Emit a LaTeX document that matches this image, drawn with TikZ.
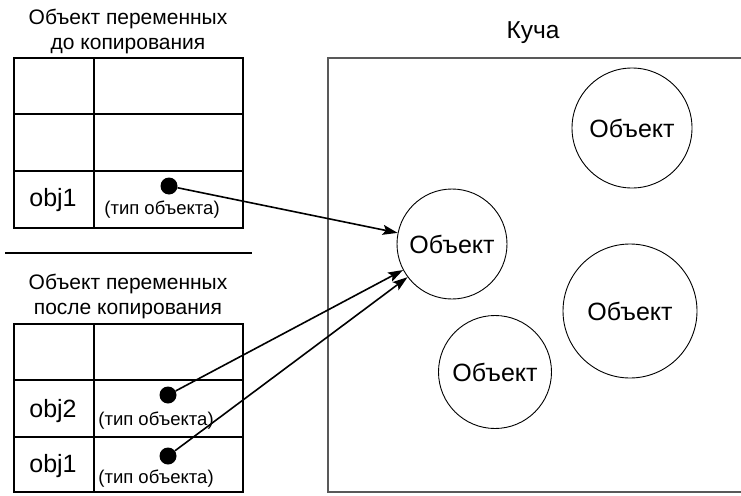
\documentclass[tikz,border=0pt]{standalone}
\usepackage{fontspec}
\setmainfont{Liberation Sans}
\usetikzlibrary{arrows.meta}
\begin{document}
\begin{tikzpicture}[x=1pt,y=-1pt,
  tline/.style={line width=1.2pt,black},
  rline/.style={line width=1.7pt,black},
  obj/.style={circle,draw,line width=0.9pt,inner sep=0pt,font=\fontsize{25}{28}\selectfont},
  dotn/.style={circle,fill=black,inner sep=0pt,minimum size=17pt},
  varname/.style={font=\fontsize{25}{28}\selectfont},
  typetxt/.style={font=\fontsize{18.5}{21}\selectfont},
  title/.style={font=\fontsize{21}{25}\selectfont,align=center},
  ptr/.style={line width=1.6pt,-{Stealth[length=15pt,width=10pt,inset=3pt]}}]
\useasboundingbox (0,0) rectangle (741,495);
% heap
\draw[line width=2pt,black!65] (745,58) -- (328,58) -- (328,492) -- (745,492);
\node[font=\fontsize{24.5}{28}\selectfont] (heap) at (533,33) {Куча};
\node[obj,minimum size=110pt] (A) at (452,244) {Объект};
\node[obj,minimum size=120pt] (B) at (632,128) {Объект};
\node[obj,minimum size=134pt] (C) at (630,311) {Объект};
\node[obj,minimum size=113pt] (D) at (495,372) {Объект};
% top table
\node[title] (t1) at (128,31) {Объект переменных\\до копирования};
\draw[tline] (14,58) rectangle (243,228);
\draw[tline] (94,58) -- (94,228);
\draw[rline] (14,114) -- (243,114);
\draw[rline] (14,171) -- (243,171);
\node[varname] (v1) at (53,200) {obj1};
\node[typetxt] (ty1) at (162,210) {(тип объекта)};
\node[dotn] (d1) at (169,186) {};
% separator
\draw[line width=2.5pt] (5,253) -- (252,253);
% bottom table
\node[title] (t2) at (128,296) {Объект переменных\\после копирования};
\draw[tline] (14,324) rectangle (243,492);
\draw[tline] (94,324) -- (94,492);
\draw[rline] (14,380) -- (243,380);
\draw[rline] (14,437) -- (243,437);
\node[varname] (v2) at (53,411) {obj2};
\node[typetxt] (ty2) at (156,421) {(тип объекта)};
\node[dotn] (d2) at (168,395) {};
\node[varname] (v3) at (53,466) {obj1};
\node[typetxt] (ty3) at (156,479) {(тип объекта)};
\node[dotn] (d3) at (168,456) {};
% pointers
\draw[ptr] (d1) -- (A);
\draw[ptr] (d2) -- (A);
\draw[ptr] (d3) -- (A);
\end{tikzpicture}
\end{document}
